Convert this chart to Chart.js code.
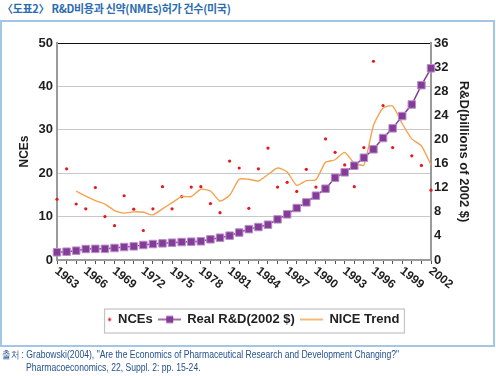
<!DOCTYPE html>
<html>
<head>
<meta charset="utf-8">
<script src="https://cdn.jsdelivr.net/npm/chart.js@4.4.0/dist/chart.umd.min.js"></script>
<style>
  html, body { margin: 0; padding: 0; background: #fff; }
  #wrap { position: relative; width: 496px; height: 376px; overflow: hidden; }
  #frame { position: absolute; left: 0; top: 20px; width: 491px; height: 323px; border: 2px solid #a3c6e4; }
  #title { position: absolute; left: 2px; top: 0px; font: bold 11px "Noto Sans CJK KR", sans-serif; color: #2b6cb0; letter-spacing: -0.3px; white-space: nowrap; }
  #src { position: absolute; left: 2px; top: 348px; font: 10px "Liberation Sans Narrow", "Liberation Sans", sans-serif; color: #24528f; line-height: 13px; white-space: nowrap; transform: scaleX(0.86); transform-origin: 0 0; }
  #src .l2 { padding-left: 28px; }
  canvas { position: absolute; left: 0; top: 0; }
</style>
</head>
<body>
<div id="wrap">
  <div id="frame"></div>
  <div id="title">〈도표2〉 R&amp;D비용과 신약(NMEs)허가 건수(미국)</div>
  <canvas id="chart" width="496" height="376"></canvas>
  <div id="src">출처 : Grabowski(2004), "Are the Economics of Pharmaceutical Research and Development Changing?"<br><span class="l2">Pharmacoeconomics, 22, Suppl. 2: pp. 15-24.</span></div>
</div>
<script>
// 연도 (x축)
const years = ['1963','1964','1965','1966','1967','1968','1969','1970','1971','1972',
               '1973','1974','1975','1976','1977','1978','1979','1980','1981','1982',
               '1983','1984','1985','1986','1987','1988','1989','1990','1991','1992',
               '1993','1994','1995','1996','1997','1998','1999','2000','2001','2002'];
// x축에 표시되는 연도
const shownYears = ['1963','1966','1969','1972','1975','1978','1981','1984','1987','1990','1993','1996','1999','2002'];

// NCE 건수 (왼쪽 축)
const nces = [14.0, 21.0, 12.9, 11.8, 16.7, 10.0, 7.9, 14.8, 11.7, 6.8,
              11.8, 16.9, 11.8, 14.6, 16.8, 16.9, 13.0, 10.9, 22.8, 21.2,
              11.9, 21.0, 25.8, 16.8, 17.9, 15.8, 20.9, 16.8, 27.9, 24.8,
              21.9, 16.9, 25.9, 45.8, 35.6, 25.9, 33.3, 24.0, 21.8, 16.1];

// 실질 R&D 비용, 십억 달러 (오른쪽 축)
const realRD = [1.28, 1.38, 1.55, 1.82, 1.85, 1.85, 1.99, 2.15, 2.26, 2.49,
                2.65, 2.76, 2.87, 2.98, 3.04, 3.10, 3.43, 3.70, 4.04, 4.55,
                5.12, 5.47, 5.86, 6.74, 7.57, 8.62, 9.56, 10.67, 11.83, 13.65,
                14.54, 15.64, 16.97, 18.36, 20.23, 21.84, 23.88, 25.8, 29.0, 31.8];

// NCE 추세 (왼쪽 축)
const nceTrend = [null, null, 15.9, 14.7, 13.7, 12.9, 11.4, 10.8, 11.1, 11.0,
                  10.4, 11.8, 13.2, 14.6, 14.6, 16.3, 15.9, 13.6, 14.9, 18.6,
                  18.6, 18.2, 19.7, 21.2, 20.3, 17.2, 18.3, 18.5, 22.5, 23.1,
                  24.8, 22.3, 21.9, 31.0, 35.0, 35.5, 31.4, 27.9, 26.3, 21.9];

const RED = '#e8161e';
const PURPLE = '#853b98';
const ORANGE = '#f5a24e';
const baseFont = '"Liberation Sans", Arial, sans-serif';

// 범례 기호 그리기
function makeIcon(w, h, draw) {
  const c = document.createElement('canvas');
  c.width = w; c.height = h;
  draw(c.getContext('2d'));
  return c;
}
const legendIcons = [
  makeIcon(22, 6, g => { g.fillStyle = RED; g.beginPath(); g.ellipse(20, 3, 1.4, 1.8, 0, 0, Math.PI * 2); g.fill(); }),
  makeIcon(23, 10, g => {
    g.strokeStyle = PURPLE; g.lineWidth = 1.5;
    g.beginPath(); g.moveTo(0, 5); g.lineTo(23, 5); g.stroke();
    g.fillStyle = PURPLE; g.fillRect(8, 1.5, 7, 7);
  }),
  makeIcon(23, 4, g => { g.strokeStyle = ORANGE; g.lineWidth = 1.5; g.beginPath(); g.moveTo(0, 2); g.lineTo(23, 2); g.stroke(); })
];

// 기울어진 x축 라벨
const slantLabels = {
  id: 'slantLabels',
  afterDraw(chart) {
    const scale = chart.scales.x;
    const ctx = chart.ctx;
    ctx.save();
    ctx.font = 'bold 12px ' + baseFont;
    ctx.fillStyle = '#1e1e1e';
    ctx.textAlign = 'left';
    ctx.textBaseline = 'top';
    years.forEach((yr, i) => {
      if (!shownYears.includes(yr)) return;
      const px = scale.getPixelForTick(i);
      ctx.save();
      ctx.translate(px + 3, scale.top + 5);
      ctx.rotate(38 * Math.PI / 180);
      ctx.fillText(yr, 0, 0);
      ctx.restore();
    });
    ctx.restore();
  }
};

// 범례 테두리
const legendBox = {
  id: 'legendBox',
  afterDraw(chart) {
    const boxes = chart.legend && chart.legend.legendHitBoxes;
    if (!boxes || !boxes.length) return;
    const first = boxes[0], last = boxes[boxes.length - 1];
    const l = first.left + 15, r = last.left + last.width + 5;
    const t = first.top - 4, b = first.top + first.height + 7;
    const ctx = chart.ctx;
    ctx.save();
    ctx.strokeStyle = '#c4c4c4';
    ctx.lineWidth = 1.2;
    ctx.strokeRect(l, t, r - l, b - t);
    ctx.restore();
  }
};

const ctx = document.getElementById('chart').getContext('2d');
new Chart(ctx, {
  type: 'line',
  data: {
    labels: years,
    datasets: [
      {
        label: 'NCEs',
        data: nces,
        yAxisID: 'y',
        showLine: false,
        pointStyle: 'circle',
        pointRadius: 1.6,
        pointBackgroundColor: RED,
        pointBorderWidth: 0,
        borderColor: RED,
        order: 3
      },
      {
        label: 'Real R&D(2002 $)',
        data: realRD,
        yAxisID: 'y1',
        borderColor: PURPLE,
        borderWidth: 1.5,
        pointStyle: 'rect',
        pointRadius: 5.3,
        pointBackgroundColor: PURPLE,
        pointBorderColor: '#b790c8',
        pointBorderWidth: 1,
        tension: 0,
        order: 1
      },
      {
        label: 'NICE Trend',
        data: nceTrend,
        yAxisID: 'y',
        borderColor: ORANGE,
        borderWidth: 1.4,
        pointRadius: 0,
        tension: 0.2,
        spanGaps: false,
        order: 2
      }
    ]
  },
  options: {
    responsive: false,
    maintainAspectRatio: false,
    devicePixelRatio: 1,
    animation: false,
    layout: { padding: { top: 43, left: 0, right: 7, bottom: 40 } },
    plugins: {
      title: { display: false },
      tooltip: { enabled: false },
      legend: {
        position: 'bottom',
        labels: {
          usePointStyle: true,
          pointStyleWidth: 22,
          padding: 6,
          color: '#222',
          font: { family: baseFont, size: 13, weight: 'bold' },
          sort: (a, b) => a.datasetIndex - b.datasetIndex,
          generateLabels(chart) {
            const items = Chart.defaults.plugins.legend.labels.generateLabels(chart);
            items.forEach(it => { it.pointStyle = legendIcons[it.datasetIndex]; });
            return items;
          }
        }
      }
    },
    scales: {
      x: {
        type: 'category',
        offset: false,
        ticks: { display: false, autoSkip: false },
        grid: { display: true, drawOnChartArea: false, drawTicks: true, tickLength: 4, color: '#555', lineWidth: 1 },
        border: { display: true, color: '#9a9a9a', width: 2 },
        afterFit(s) { s.height = 47; }
      },
      y: {
        position: 'left',
        min: 0,
        max: 50,
        ticks: { stepSize: 10, padding: 4, color: '#1e1e1e', font: { family: baseFont, size: 13, weight: 'bold' } },
        grid: {
          drawTicks: false,
          lineWidth: 1,
          color: c => c.tick.value === 50 ? '#111' : (c.tick.value === 0 ? 'rgba(0,0,0,0)' : '#c8c8c8')
        },
        border: { color: '#9a9a9a', width: 2 },
        title: { display: true, text: 'NCEs', color: '#1e1e1e', font: { family: baseFont, size: 12, weight: 'bold' }, padding: { top: 17, bottom: 0 } },
        afterFit(s) { s.width = 57; }
      },
      y1: {
        position: 'right',
        min: 0,
        max: 36,
        ticks: { stepSize: 4, padding: 3, color: '#1e1e1e', font: { family: baseFont, size: 13, weight: 'bold' } },
        grid: { drawOnChartArea: false, drawTicks: false },
        border: { color: '#9a9a9a', width: 2 },
        title: { display: true, text: 'R&D(billions of 2002 $)', color: '#1e1e1e', font: { family: baseFont, size: 13, weight: 'bold' }, padding: { top: 18, bottom: 0 } },
        afterFit(s) { s.width = 58; }
      }
    }
  },
  plugins: [slantLabels, legendBox]
});
</script>
</body>
</html>
